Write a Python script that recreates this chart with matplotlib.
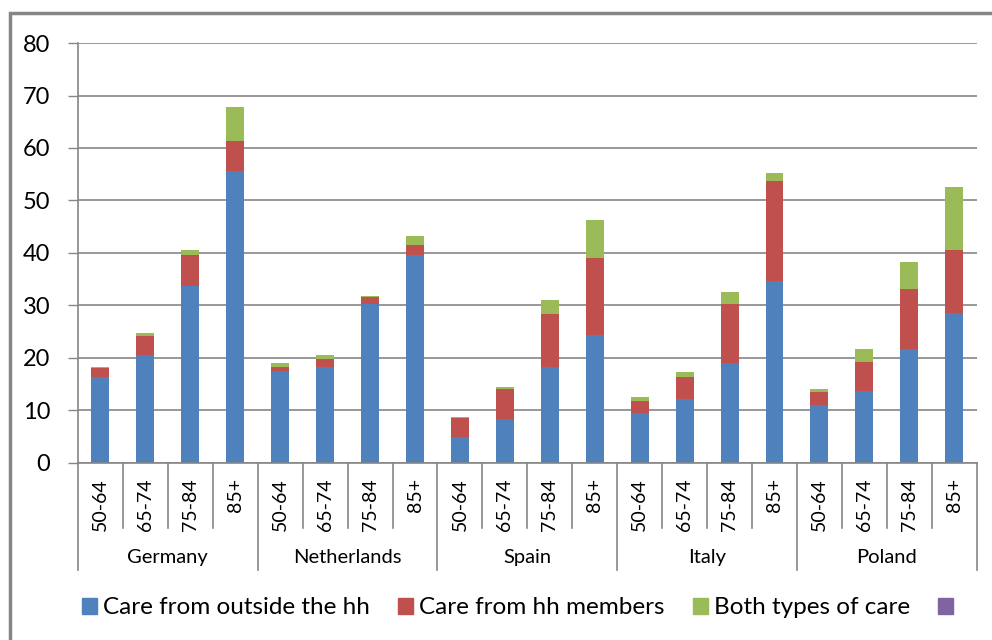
"""Stacked bars: care received by age group and country."""
import matplotlib
matplotlib.use('Agg')
import matplotlib.pyplot as plt
from matplotlib.patches import Patch, Rectangle
import matplotlib.transforms as mtransforms

plt.rcParams['font.family'] = ['Lato', 'DejaVu Sans']

# data
countries = ['Germany', 'Netherlands', 'Spain', 'Italy', 'Poland']
ages = ['50-64', '65-74', '75-84', '85+']
outside = [16.4, 20.5, 33.8, 55.7,
           17.5, 18.2, 30.2, 39.6,
           4.9, 8.3, 18.2, 24.4,
           9.5, 12.1, 19.0, 34.7,
           11.0, 13.7, 21.8, 28.6]
members = [1.6, 3.6, 5.8, 5.7,
           0.7, 1.7, 1.5, 2.0,
           3.7, 5.7, 10.2, 14.7,
           2.4, 4.2, 11.2, 19.1,
           2.6, 5.5, 11.4, 12.0]
both = [0.2, 0.7, 1.0, 6.5,
        0.8, 0.7, 0.2, 1.7,
        0.2, 0.5, 2.7, 7.1,
        0.7, 1.1, 2.4, 1.5,
        0.4, 2.6, 5.0, 12.0]
series_names = ['Care from outside the hh', 'Care from hh members',
                'Both types of care', '']
colors = ['#4F81BD', '#C0504D', '#9BBB59', '#8064A2']
grey = '#868686'

fig = plt.figure(figsize=(9.92, 6.4), dpi=100)
ax = fig.add_axes([0.0786, 0.2766, 0.906, 0.6562])

x = list(range(len(outside)))
bottom2 = [a + b for a, b in zip(outside, members)]
ax.bar(x, outside, width=0.4, color=colors[0], zorder=2)
ax.bar(x, members, width=0.4, bottom=outside, color=colors[1], zorder=2)
ax.bar(x, both, width=0.4, bottom=bottom2, color=colors[2], zorder=2)

ax.set_xlim(-0.5, len(x) - 0.5)
ax.set_ylim(0, 80)
ax.set_yticks(range(0, 81, 10))
ax.yaxis.grid(True, color=grey, linewidth=1.2, zorder=0)
ax.tick_params(axis='y', length=7, color=grey, width=1, pad=13, labelsize=17)
for side in ['top', 'right']:
    ax.spines[side].set_visible(False)
for side in ['left', 'bottom']:
    ax.spines[side].set_color(grey)
    ax.spines[side].set_linewidth(1.2)

# first level of the category axis: age groups
ax.set_xticks(x)
ax.set_xticklabels(ages * len(countries), rotation=90, va='top', ha='center')
ax.tick_params(axis='x', length=0, pad=11, labelsize=14)

# second level: countries, with separator lines
trans = mtransforms.blended_transform_factory(ax.transData, ax.transAxes)
for i in range(len(x) + 1):
    pos = i - 0.5
    low = -0.255 if i % len(ages) == 0 else -0.155
    ax.plot([pos, pos], [0, low], color=grey, linewidth=1.2,
            transform=trans, clip_on=False)
for k, name in enumerate(countries):
    centre = k * len(ages) + (len(ages) - 1) / 2
    ax.text(centre, -0.224, name, transform=trans, ha='center', va='center',
            fontsize=14.5)

handles = [Patch(color=c) for c in colors]
fig.legend(handles, series_names, loc='center', bbox_to_anchor=(0.525, 0.05),
           ncol=4, frameon=False, fontsize=17.5, handlelength=0.62,
           handleheight=0.62, handletextpad=0.25, columnspacing=1.15)

# outer chart frame
fig.patches.append(Rectangle((10 / 992, -0.1), 1.2, 1.1 - 13 / 640,
                             transform=fig.transFigure, fill=False,
                             edgecolor=grey, linewidth=2.5))

fig.savefig('out.png', dpi=100)
